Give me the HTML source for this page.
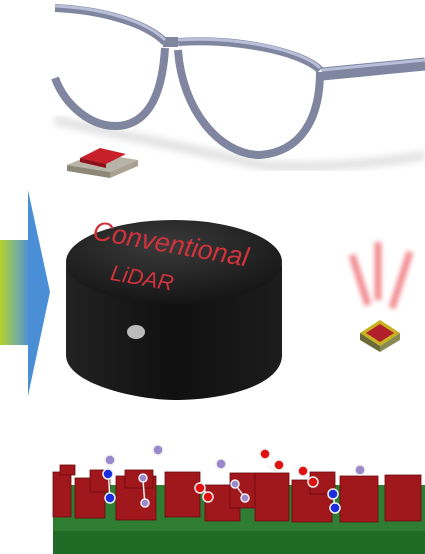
<!DOCTYPE html>
<html><head><meta charset="utf-8"><style>html,body{margin:0;padding:0;background:#fff}svg{display:block}</style></head>
<body>
<svg width="425" height="554" viewBox="0 0 425 554">
<defs>
<linearGradient id="ag" x1="0" x2="1"><stop offset="0" stop-color="#b5d12a"/><stop offset="0.5" stop-color="#7fb58f"/><stop offset="1" stop-color="#4a8fd6"/></linearGradient>
<radialGradient id="pk" cx="0.45" cy="0.3" r="0.7"><stop offset="0" stop-color="#3a3a3a"/><stop offset="1" stop-color="#151515"/></radialGradient>
<linearGradient id="bd" x1="0" x2="1"><stop offset="0" stop-color="#222"/><stop offset="0.5" stop-color="#101010"/><stop offset="1" stop-color="#1c1c1c"/></linearGradient>
<filter id="bl"><feGaussianBlur stdDeviation="2.5"/></filter>
<filter id="sh"><feGaussianBlur stdDeviation="4"/></filter>
</defs>
<g>
<path d="M55 120 C120 135 200 150 260 165 C330 170 400 160 425 155" stroke="#ddd" stroke-width="8" fill="none" filter="url(#sh)"/>
<g fill="none" stroke="#80869f" stroke-width="8" stroke-linejoin="round">
<path d="M55 8 C100 10 145 22 165 42"/>
<path d="M55 78 C65 105 90 126 115 126 C145 126 162 100 165 48"/>
<path d="M178 42 C230 38 300 50 320 70"/>
<path d="M178 50 C182 110 220 155 260 155 C300 152 320 120 320 72"/>
<path d="M322 74 L425 64" stroke-width="13"/>
<path d="M163 42 L178 42" stroke-width="10"/>
</g>
<g fill="none" stroke="#b9bfd9" stroke-width="3">
<path d="M55 6 C100 8 145 20 165 40"/>
<path d="M178 40 C230 36 300 48 320 68"/>
<path d="M322 70 L425 60"/>
</g>
</g>
<g>
<polygon points="67,165 95,153 138,160 110,172" fill="#b8b4a8"/>
<polygon points="67,165 110,172 110,178 67,171" fill="#8d8778"/>
<polygon points="110,172 138,160 138,166 110,178" fill="#a9a292"/>
<polygon points="80,158 100,148 126,154 106,164" fill="#c8202a"/>
<polygon points="80,158 106,164 106,168 80,162" fill="#901018"/>
</g>
<g>
<rect x="0" y="240" width="30" height="105" fill="url(#ag)"/>
<polygon points="28,190 50,292 28,396" fill="#4a8fd6"/>
</g>
<g>
<path d="M66 265 L66 355 C66 385 140 400 175 400 C225 400 282 385 282 355 L282 265 Z" fill="url(#bd)"/>
<ellipse cx="174" cy="262" rx="108" ry="42" fill="url(#pk)"/>
<ellipse cx="136" cy="332" rx="9" ry="7" fill="#bbb"/>
<text x="90" y="253" transform="rotate(10 170 255)" font-family="Liberation Sans, sans-serif" font-style="italic" font-size="27" fill="#d0323c">Conventional</text>
<text x="110" y="285" transform="rotate(10 140 280)" font-family="Liberation Sans, sans-serif" font-style="italic" font-size="22" fill="#d0323c">LiDAR</text>
</g>
<g stroke="#f07a80" stroke-width="7" filter="url(#bl)" opacity="0.85">
<line x1="352" y1="255" x2="368" y2="305"/>
<line x1="378" y1="242" x2="378" y2="300"/>
<line x1="410" y1="252" x2="392" y2="308"/>
</g>
<g>
<polygon points="360,333 380,320 400,333 380,346" fill="#c9b020"/>
<polygon points="360,333 380,346 380,352 360,340" fill="#6b6b3a"/>
<polygon points="380,346 400,333 400,340 380,352" fill="#8a8a50"/>
<polygon points="366,333 380,324 394,333 380,342" fill="#b0202a"/>
</g>
<g>
<rect x="53" y="485" width="372" height="46" fill="#2e7d32"/>
<rect x="53" y="531" width="372" height="23" fill="#1f6a25"/>
</g>
<g fill="#a0181c" stroke="#6a0c0f" stroke-width="0.8">
<rect x="53" y="472" width="18" height="45"/><rect x="75" y="478" width="30" height="40"/><rect x="90" y="470" width="20" height="22"/>
<rect x="116" y="476" width="40" height="44"/><rect x="125" y="470" width="28" height="18"/><rect x="165" y="472" width="35" height="45"/>
<rect x="205" y="485" width="35" height="36"/><rect x="230" y="473" width="25" height="35"/><rect x="255" y="473" width="34" height="48"/>
<rect x="292" y="480" width="40" height="42"/><rect x="310" y="472" width="25" height="22"/><rect x="340" y="476" width="38" height="46"/>
<rect x="385" y="475" width="36" height="46"/><rect x="60" y="465" width="15" height="10"/>
</g>
<g stroke="#eee" stroke-width="1.5">
<line x1="108" y1="466" x2="110" y2="500"/><line x1="143" y1="480" x2="145" y2="505"/>
<line x1="200" y1="482" x2="206" y2="493"/><line x1="235" y1="484" x2="245" y2="498"/>
<line x1="268" y1="466" x2="278" y2="472"/><line x1="304" y1="472" x2="312" y2="482"/>
<line x1="333" y1="493" x2="335" y2="507"/>
<circle cx="110" cy="460" r="5" fill="#9988cc"/><circle cx="108" cy="474" r="5" fill="#1a2ee0"/><circle cx="110" cy="498" r="5" fill="#1a2ee0"/>
<circle cx="158" cy="450" r="5" fill="#9988cc"/><circle cx="143" cy="478" r="4" fill="#9988cc"/><circle cx="145" cy="503" r="4" fill="#9988cc"/>
<circle cx="221" cy="464" r="5" fill="#9988cc"/><circle cx="235" cy="484" r="4" fill="#9988cc"/><circle cx="245" cy="498" r="4" fill="#9988cc"/>
<circle cx="265" cy="454" r="5" fill="#e01010"/><circle cx="279" cy="465" r="5" fill="#e01010"/>
<circle cx="200" cy="488" r="5" fill="#e01010"/><circle cx="208" cy="497" r="5" fill="#e01010"/>
<circle cx="303" cy="471" r="5" fill="#e01010"/><circle cx="313" cy="482" r="5" fill="#e01010"/>
<circle cx="333" cy="494" r="5" fill="#1a2ee0"/><circle cx="335" cy="508" r="5" fill="#1a2ee0"/>
<circle cx="360" cy="470" r="5" fill="#9988cc"/>
</g>
</svg>
</body></html>
